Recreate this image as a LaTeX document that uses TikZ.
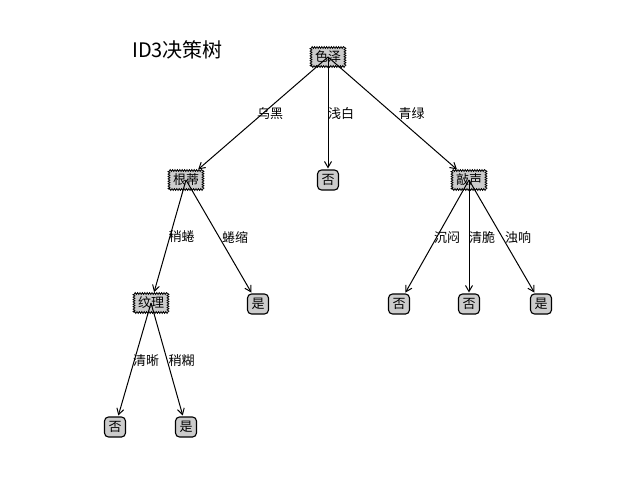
\documentclass[tikz,border=0pt]{standalone}
\usepackage{fontspec}
\newfontfamily\cjk{Noto Sans CJK SC}
\usetikzlibrary{arrows.meta,decorations.pathmorphing,calc}
\tikzset{
  base/.style={font=\cjk\fontsize{13}{13}\selectfont, fill=black!20, inner xsep=4pt, inner ysep=0pt, minimum height=19pt},
  decision/.style={base, draw, line width=0.8pt, decorate, decoration={zigzag, segment length=2.4pt, amplitude=0.9pt}},
  leaf/.style={base, draw, line width=1.1pt, rounded corners=4pt, minimum width=21pt, minimum height=20pt},
  edge/.style={line width=1pt, -{Straight Barb[length=6pt,width=7pt,line width=1pt]}, shorten >=1pt},
  elabel/.style={font=\cjk\fontsize{13}{13}\selectfont, inner sep=0pt, anchor=base west},
}
\begin{document}
\begin{tikzpicture}[x=1pt,y=-1pt]
\useasboundingbox (0,0) rectangle (640,480);
\node[font=\cjk\fontsize{20}{20}\selectfont, inner sep=0pt, anchor=west] (title) at (132,50) {ID3决策树};
% nodes
\node[decision] (n0) at (328,57) {色泽};
\node[decision] (n1) at (186,180) {根蒂};
\node[leaf] (n2) at (328,180) {否};
\node[decision] (n3) at (469,180) {敲声};
\node[decision] (n4) at (151,303) {纹理};
\node[leaf] (n5) at (258,304) {是};
\node[leaf] (n6) at (399,304) {否};
\node[leaf] (n7) at (469,304) {否};
\node[leaf] (n8) at (541,304) {是};
\node[leaf] (n9) at (115,427) {否};
\node[leaf] (n10) at (186,427) {是};
% edges
\foreach \p/\c/\t in {n0/n1/乌黑, n0/n2/浅白, n0/n3/青绿, n1/n4/稍蜷, n1/n5/蜷缩, n3/n6/沉闷, n3/n7/清脆, n3/n8/浊响, n4/n9/清晰, n4/n10/稍糊}{
  \draw[edge] (\p.center) -- (\c);
  \node[elabel] (l-\c) at ($(\p.center)!0.5!(\c.center)$) {\t};
}
\end{tikzpicture}
\end{document}
